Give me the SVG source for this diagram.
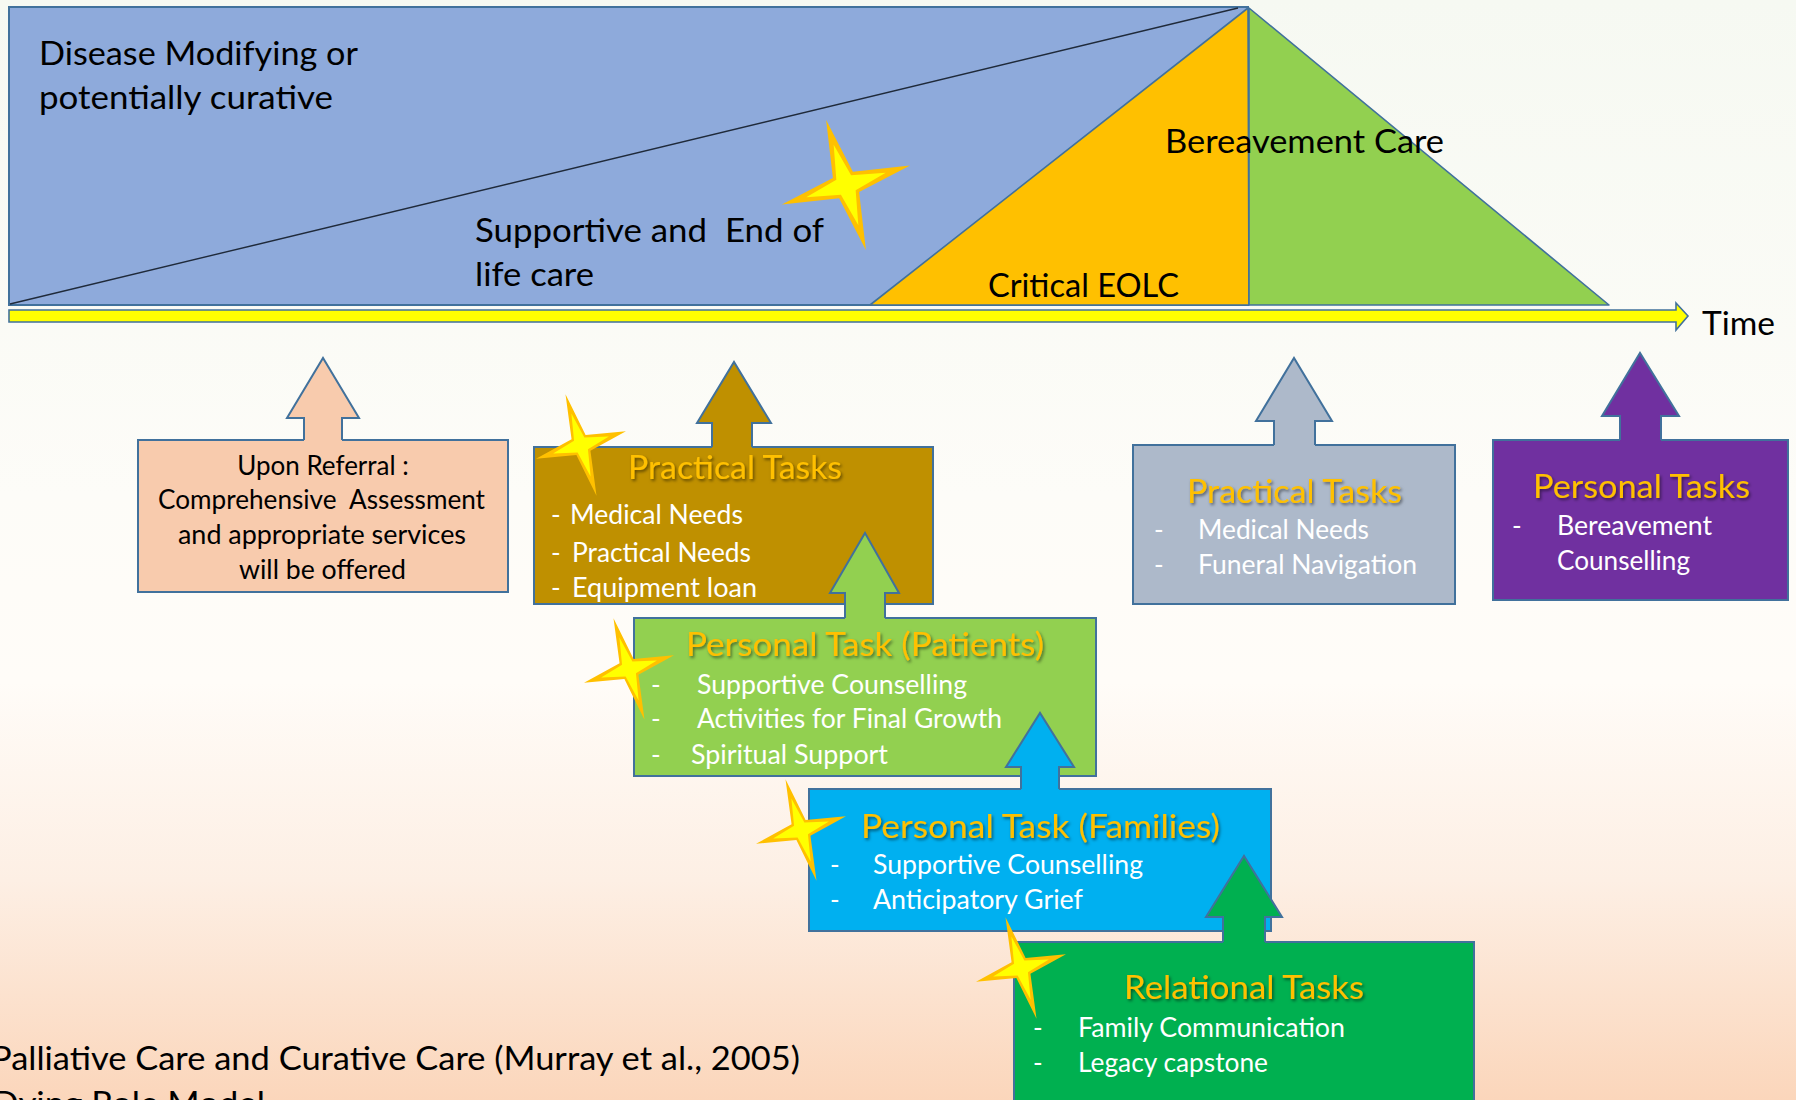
<svg xmlns="http://www.w3.org/2000/svg" xmlns:xlink="http://www.w3.org/1999/xlink" width="1796" height="1100" viewBox="0 0 1796 1100">
<defs>
<linearGradient id="bg" x1="0" y1="0" x2="0" y2="1">
<stop offset="0" stop-color="#f6f9f2"/>
<stop offset="0.45" stop-color="#fdfcf8"/>
<stop offset="0.62" stop-color="#fffcf8"/>
<stop offset="0.8" stop-color="#fdefe4"/>
<stop offset="1" stop-color="#fbd6bb"/>
</linearGradient>
<filter id="sh" x="-10%" y="-30%" width="120%" height="160%">
<feDropShadow dx="1.5" dy="2" stdDeviation="1.6" flood-color="#000" flood-opacity="0.5"/>
</filter>
<g id="star">
<polygon points="0,-1 0.156,-0.156 1,0 0.156,0.156 0,1 -0.156,0.156 -1,0 -0.156,-0.156" fill="#ffc000"/>
<polygon points="0,-0.62 0.115,-0.115 0.62,0 0.115,0.115 0,0.62 -0.115,0.115 -0.62,0 -0.115,-0.115" fill="#ffff00"/>
</g>
</defs>
<style>
text{font-family:Lato,"Open Sans","Liberation Sans",sans-serif}
.big{font-size:33px;fill:#000}
.it{font-size:26px;fill:#fff}
.dk{font-size:26px;fill:#000}
.tt{font-size:33px;fill:#ffc000;filter:url(#sh)}
.bx{stroke:#41719c;stroke-width:2}
.ao{fill:none;stroke:#41719c;stroke-width:2}
.tri{stroke:#41719c;stroke-width:1.6;stroke-linejoin:round}
</style>
<rect x="0" y="0" width="1796" height="1100" fill="url(#bg)"/>

<g id="timeline">
<rect x="9" y="7" width="1239" height="298" fill="#8eaadb" class="bx"/>
<line x1="10" y1="304" x2="1238" y2="8" stroke="#1f2a3a" stroke-width="1.4"/>
<polygon class="tri" points="870,305 1248,8 1249,305" fill="#ffc000"/>
<polygon class="tri" points="1249,8 1249,305 1609,305" fill="#92d050"/>
<text class="big" x="39" y="65" textLength="319" lengthAdjust="spacingAndGlyphs">Disease Modifying or</text>
<text class="big" x="39" y="109" textLength="294" lengthAdjust="spacingAndGlyphs">potentially curative</text>
<text class="big" x="475" y="242" textLength="349" lengthAdjust="spacingAndGlyphs">Supportive and&#160; End of</text>
<text class="big" x="475" y="286" textLength="119" lengthAdjust="spacingAndGlyphs">life care</text>
<text class="big" x="1165" y="153" textLength="279" lengthAdjust="spacingAndGlyphs">Bereavement Care</text>
<text class="big" x="988" y="297" textLength="191" lengthAdjust="spacingAndGlyphs">Critical EOLC</text>
</g>

<g id="connectors">
<polygon points="9,310 1676,310 1676,303 1688,316 1676,330 1676,322 9,322" fill="#ffff00" stroke="#41719c" stroke-width="1.6"/>
</g>
<text class="big" x="1702" y="335" textLength="73" lengthAdjust="spacingAndGlyphs">Time</text>

<g id="node-referral">
<rect x="138" y="440" width="370" height="152" fill="#f8cbad" class="bx"/>
<path d="M304 442 V418 H287 L323 358 L359 418 H342 V442 Z" fill="#f8cbad"/>
<path d="M304 440 V418 H287 L323 358 L359 418 H342 V440" class="ao"/>
<text class="dk" x="323" y="475" text-anchor="middle">Upon Referral :</text>
<text class="dk" x="158" y="509" textLength="327" lengthAdjust="spacingAndGlyphs">Comprehensive&#160; Assessment</text>
<text class="dk" x="178" y="544" textLength="288" lengthAdjust="spacingAndGlyphs">and appropriate services</text>
<text class="dk" x="239" y="579" textLength="167" lengthAdjust="spacingAndGlyphs">will be offered</text>
</g>

<g id="node-practical-1">
<rect x="534" y="447" width="399" height="157" fill="#bf9000" class="bx"/>
<path d="M712 449 V423 H697 L734 362 L771 423 H752 V449 Z" fill="#bf9000"/>
<path d="M712 447 V423 H697 L734 362 L771 423 H752 V447" class="ao"/>
<text class="tt" x="628" y="479" textLength="214" lengthAdjust="spacingAndGlyphs">Practical Tasks</text>
<text class="it" y="524"><tspan x="551">-</tspan><tspan x="570" textLength="173" lengthAdjust="spacingAndGlyphs">Medical Needs</tspan></text>
<text class="it" y="562"><tspan x="551">-</tspan><tspan x="572" textLength="179" lengthAdjust="spacingAndGlyphs">Practical Needs</tspan></text>
<text class="it" y="597"><tspan x="551">-</tspan><tspan x="572" textLength="185" lengthAdjust="spacingAndGlyphs">Equipment loan</tspan></text>
</g>

<g id="node-practical-2">
<rect x="1133" y="445" width="322" height="159" fill="#adb9ca" class="bx"/>
<path d="M1274 447 V421 H1256 L1294 358 L1332 421 H1315 V447 Z" fill="#adb9ca"/>
<path d="M1274 445 V421 H1256 L1294 358 L1332 421 H1315 V445" class="ao"/>
<text class="tt" x="1187" y="503" textLength="215" lengthAdjust="spacingAndGlyphs">Practical Tasks</text>
<text class="it" y="539"><tspan x="1154">-</tspan><tspan x="1198" textLength="171" lengthAdjust="spacingAndGlyphs">Medical Needs</tspan></text>
<text class="it" y="574"><tspan x="1154">-</tspan><tspan x="1198" textLength="219" lengthAdjust="spacingAndGlyphs">Funeral Navigation</tspan></text>
</g>

<g id="node-personal">
<rect x="1493" y="440" width="295" height="160" fill="#7030a0" class="bx"/>
<path d="M1620 442 V416 H1602 L1640 353 L1679 416 H1661 V442 Z" fill="#7030a0"/>
<path d="M1620 440 V416 H1602 L1640 353 L1679 416 H1661 V440" class="ao"/>
<text class="tt" x="1533" y="498" textLength="217" lengthAdjust="spacingAndGlyphs">Personal Tasks</text>
<text class="it" y="535"><tspan x="1512">-</tspan><tspan x="1557" textLength="155" lengthAdjust="spacingAndGlyphs">Bereavement</tspan></text>
<text class="it" x="1557" y="570" textLength="133" lengthAdjust="spacingAndGlyphs">Counselling</text>
</g>

<g id="node-patients">
<rect x="634" y="618" width="462" height="158" fill="#92d050" class="bx"/>
<path d="M845 620 V593 H830 L865 533 L899 593 H885 V620 Z" fill="#92d050"/>
<path d="M845 618 V593 H830 L865 533 L899 593 H885 V618" class="ao"/>
<text class="tt" x="686" y="656" textLength="358" lengthAdjust="spacingAndGlyphs">Personal Task (Patients)</text>
<text class="it" y="694"><tspan x="651">-</tspan><tspan x="697" textLength="270" lengthAdjust="spacingAndGlyphs">Supportive Counselling</tspan></text>
<text class="it" y="728"><tspan x="651">-</tspan><tspan x="697" textLength="305" lengthAdjust="spacingAndGlyphs">Activities for Final Growth</tspan></text>
<text class="it" y="764"><tspan x="651">-</tspan><tspan x="691" textLength="197" lengthAdjust="spacingAndGlyphs">Spiritual Support</tspan></text>
</g>

<g id="node-families">
<rect x="809" y="789" width="462" height="142" fill="#00b0f0" class="bx"/>
<path d="M1021 791 V767 H1006 L1040 713 L1074 767 H1059 V791 Z" fill="#00b0f0"/>
<path d="M1021 789 V767 H1006 L1040 713 L1074 767 H1059 V789" class="ao"/>
<text class="tt" x="861" y="838" textLength="359" lengthAdjust="spacingAndGlyphs">Personal Task (Families)</text>
<text class="it" y="874"><tspan x="830">-</tspan><tspan x="873" textLength="270" lengthAdjust="spacingAndGlyphs">Supportive Counselling</tspan></text>
<text class="it" y="909"><tspan x="830">-</tspan><tspan x="873" textLength="210" lengthAdjust="spacingAndGlyphs">Anticipatory Grief</tspan></text>
</g>

<g id="node-relational">
<rect x="1014" y="942" width="460" height="175" fill="#00b050" class="bx"/>
<path d="M1223 944 V917 H1206 L1244 856 L1282 917 H1265 V944 Z" fill="#00b050"/>
<path d="M1223 942 V917 H1206 L1244 856 L1282 917 H1265 V942" class="ao"/>
<text class="tt" x="1124" y="999" textLength="240" lengthAdjust="spacingAndGlyphs">Relational Tasks</text>
<text class="it" y="1037"><tspan x="1033">-</tspan><tspan x="1078" textLength="267" lengthAdjust="spacingAndGlyphs">Family Communication</tspan></text>
<text class="it" y="1072"><tspan x="1033">-</tspan><tspan x="1078" textLength="190" lengthAdjust="spacingAndGlyphs">Legacy capstone</tspan></text>
</g>

<g id="stars">
<use xlink:href="#star" transform="translate(846,185) rotate(-17) scale(67,68)"/>
<use xlink:href="#star" transform="translate(581,445) rotate(-17) scale(47,53)"/>
<use xlink:href="#star" transform="translate(629,669) rotate(-17) scale(47,53)"/>
<use xlink:href="#star" transform="translate(801,830) rotate(-17) scale(47,53)"/>
<use xlink:href="#star" transform="translate(1021,968) rotate(-17) scale(47,53)"/>
</g>

<text class="big" x="-9" y="1070" textLength="809" lengthAdjust="spacingAndGlyphs">Palliative Care and Curative Care (Murray et al., 2005)</text>
<text class="big" x="-8" y="1115" textLength="273" lengthAdjust="spacingAndGlyphs">Dying Role Model</text>
</svg>
